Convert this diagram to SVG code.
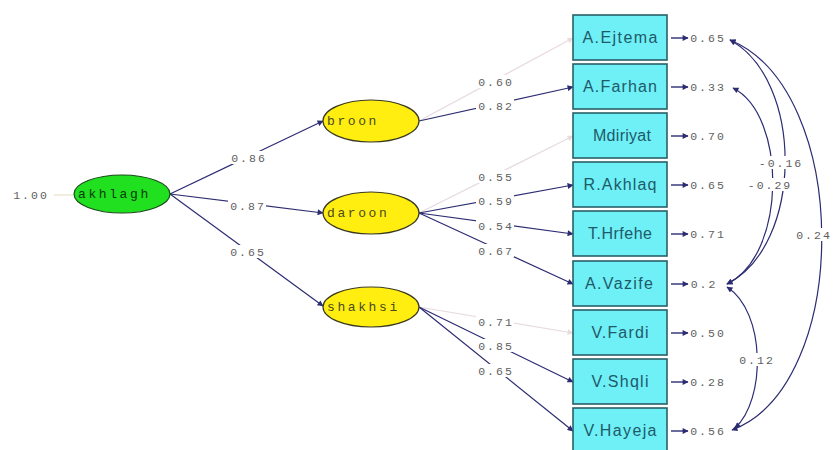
<svg xmlns="http://www.w3.org/2000/svg" width="835" height="450" viewBox="0 0 835 450">
<style>
.lat{fill:#ffee10;stroke:#3a3a20;stroke-width:1.2}
.latg{fill:#20e020;stroke:#1a4a1a;stroke-width:1.2}
.ltxt{font-family:"Liberation Mono",monospace;font-size:13px;letter-spacing:2.6px;fill:#4a4a20}
.box{fill:#6ff0f6;stroke:#2a6068;stroke-width:1.6}
.btxt{font-family:"Liberation Sans",Arial,sans-serif;font-size:16px;fill:#1e5a6a;text-anchor:middle}
.num{font-family:"Liberation Mono",monospace;font-size:11.5px;letter-spacing:2px;fill:#606060;text-anchor:middle}
.bg{fill:#fff}
.p{stroke:#2c2c72;stroke-width:1.2;fill:none;marker-end:url(#ah)}
.f{stroke:#e8dade;stroke-width:1.2;fill:none;marker-end:url(#ahf)}
.c{stroke:#2c2c72;stroke-width:1.2;fill:none;marker-start:url(#ah);marker-end:url(#ah)}
.e{stroke:#2c2c72;stroke-width:1.4;fill:none;marker-end:url(#ah)}
</style>
<defs>
<marker id="ah" viewBox="0 0 10 10" refX="9" refY="5" markerWidth="8" markerHeight="6" markerUnits="userSpaceOnUse" orient="auto-start-reverse"><path d="M0,0 L10,5 L0,10 z" fill="#2c2c72"/></marker>
<marker id="ahf" viewBox="0 0 10 10" refX="9" refY="5" markerWidth="8" markerHeight="6" markerUnits="userSpaceOnUse" orient="auto-start-reverse"><path d="M0,0 L10,5 L0,10 z" fill="#e8dade"/></marker>
</defs>
<rect width="835" height="450" fill="#fff"/>
<g id="connectors">
<line x1="54" y1="195" x2="73" y2="195" stroke="#e8e0c8" stroke-width="1.2"/>
<line class="p" x1="170" y1="194" x2="323" y2="121"/>
<line class="p" x1="170" y1="194" x2="323" y2="213"/>
<line class="p" x1="170" y1="194" x2="323" y2="306"/>
<line class="f" x1="419" y1="121" x2="573" y2="38"/>
<line class="p" x1="419" y1="121" x2="573" y2="87"/>
<line class="f" x1="419" y1="213" x2="573" y2="136"/>
<line class="p" x1="419" y1="213" x2="573" y2="185"/>
<line class="p" x1="419" y1="213" x2="573" y2="234"/>
<line class="p" x1="419" y1="213" x2="573" y2="284"/>
<line class="f" x1="419" y1="307" x2="573" y2="333"/>
<line class="p" x1="419" y1="307" x2="573" y2="382"/>
<line class="p" x1="419" y1="307" x2="573" y2="431"/>
<line class="e" x1="671" y1="38" x2="688" y2="38"/>
<line class="e" x1="671" y1="87" x2="688" y2="87"/>
<line class="e" x1="671" y1="136" x2="688" y2="136"/>
<line class="e" x1="671" y1="185" x2="688" y2="185"/>
<line class="e" x1="671" y1="234" x2="688" y2="234"/>
<line class="e" x1="671" y1="284" x2="688" y2="284"/>
<line class="e" x1="671" y1="333" x2="688" y2="333"/>
<line class="e" x1="671" y1="382" x2="688" y2="382"/>
<line class="e" x1="671" y1="431" x2="688" y2="431"/>
<path class="c" d="M730,40 C852,90 852,385 732,430"/>
<path class="c" d="M730,40 C804,80 804,245 727,284"/>
<path class="c" d="M733,88 C787,115 787,255 727,284"/>
<path class="c" d="M727,287 C766,312 766,400 735,428"/>
<rect class="bg" x="229" y="151" width="38" height="13"/><text class="num" x="249" y="162">0.86</text>
<rect class="bg" x="228" y="199" width="38" height="13"/><text class="num" x="248" y="210">0.87</text>
<rect class="bg" x="228" y="245" width="38" height="13"/><text class="num" x="248" y="256">0.65</text>
<rect class="bg" x="476" y="75" width="38" height="13"/><text class="num" x="496" y="86">0.60</text>
<rect class="bg" x="476" y="99" width="38" height="13"/><text class="num" x="496" y="110">0.82</text>
<rect class="bg" x="476" y="170" width="38" height="13"/><text class="num" x="496" y="181">0.55</text>
<rect class="bg" x="476" y="194" width="38" height="13"/><text class="num" x="496" y="205">0.59</text>
<rect class="bg" x="476" y="219" width="38" height="13"/><text class="num" x="496" y="230">0.54</text>
<rect class="bg" x="476" y="244" width="38" height="13"/><text class="num" x="496" y="255">0.67</text>
<rect class="bg" x="476" y="315" width="38" height="13"/><text class="num" x="496" y="326">0.71</text>
<rect class="bg" x="476" y="339" width="38" height="13"/><text class="num" x="496" y="350">0.85</text>
<rect class="bg" x="476" y="364" width="38" height="13"/><text class="num" x="496" y="375">0.65</text>
<rect class="bg" x="758" y="156" width="44" height="13"/><text class="num" x="781" y="167">-0.16</text>
<rect class="bg" x="747" y="178" width="44" height="13"/><text class="num" x="770" y="189">-0.29</text>
<rect class="bg" x="795" y="228" width="36" height="13"/><text class="num" x="814" y="239">0.24</text>
<rect class="bg" x="738" y="353" width="36" height="13"/><text class="num" x="757" y="364">0.12</text>
</g>
<g id="e_akhlagh"><text class="num" x="31" y="199">1.00</text></g>
<g id="akhlagh"><ellipse class="latg" cx="122" cy="194" rx="48" ry="19"/><text class="ltxt" x="78" y="198" style="fill:#0a3a0a">akhlagh</text></g>
<g id="broon"><ellipse class="lat" cx="371" cy="121" rx="48" ry="21"/><text class="ltxt" x="327" y="125">broon</text></g>
<g id="daroon"><ellipse class="lat" cx="371" cy="213" rx="48" ry="21"/><text class="ltxt" x="327" y="217">daroon</text></g>
<g id="shakhsi"><ellipse class="lat" cx="371" cy="307" rx="48" ry="20"/><text class="ltxt" x="327" y="311">shakhsi</text></g>
<g id="AEjtema"><rect class="box" x="573" y="15" width="94" height="45"/><text class="btxt" x="620" y="43" textLength="75">A.Ejtema</text><text class="num" x="708" y="42">0.65</text></g>
<g id="AFarhan"><rect class="box" x="573" y="64" width="94" height="45"/><text class="btxt" x="620" y="92" textLength="74">A.Farhan</text><text class="num" x="708" y="91">0.33</text></g>
<g id="Mdiriyat"><rect class="box" x="573" y="113" width="94" height="45"/><text class="btxt" x="622" y="141" textLength="58">Mdiriyat</text><text class="num" x="708" y="140">0.70</text></g>
<g id="RAkhlaq"><rect class="box" x="573" y="162" width="94" height="45"/><text class="btxt" x="620" y="190" textLength="73">R.Akhlaq</text><text class="num" x="708" y="189">0.65</text></g>
<g id="THrfehe"><rect class="box" x="573" y="211" width="94" height="45"/><text class="btxt" x="620" y="239" textLength="64">T.Hrfehe</text><text class="num" x="708" y="238">0.71</text></g>
<g id="AVazife"><rect class="box" x="573" y="261" width="94" height="45"/><text class="btxt" x="619" y="289" textLength="68">A.Vazife</text><text class="num" x="704" y="288">0.2</text></g>
<g id="VFardi"><rect class="box" x="573" y="310" width="94" height="45"/><text class="btxt" x="620" y="338" textLength="57">V.Fardi</text><text class="num" x="708" y="337">0.50</text></g>
<g id="VShqli"><rect class="box" x="573" y="359" width="94" height="45"/><text class="btxt" x="620" y="387" textLength="57">V.Shqli</text><text class="num" x="708" y="386">0.28</text></g>
<g id="VHayeja"><rect class="box" x="573" y="408" width="94" height="45"/><text class="btxt" x="620" y="436" textLength="73">V.Hayeja</text><text class="num" x="708" y="435">0.56</text></g>
</svg>
